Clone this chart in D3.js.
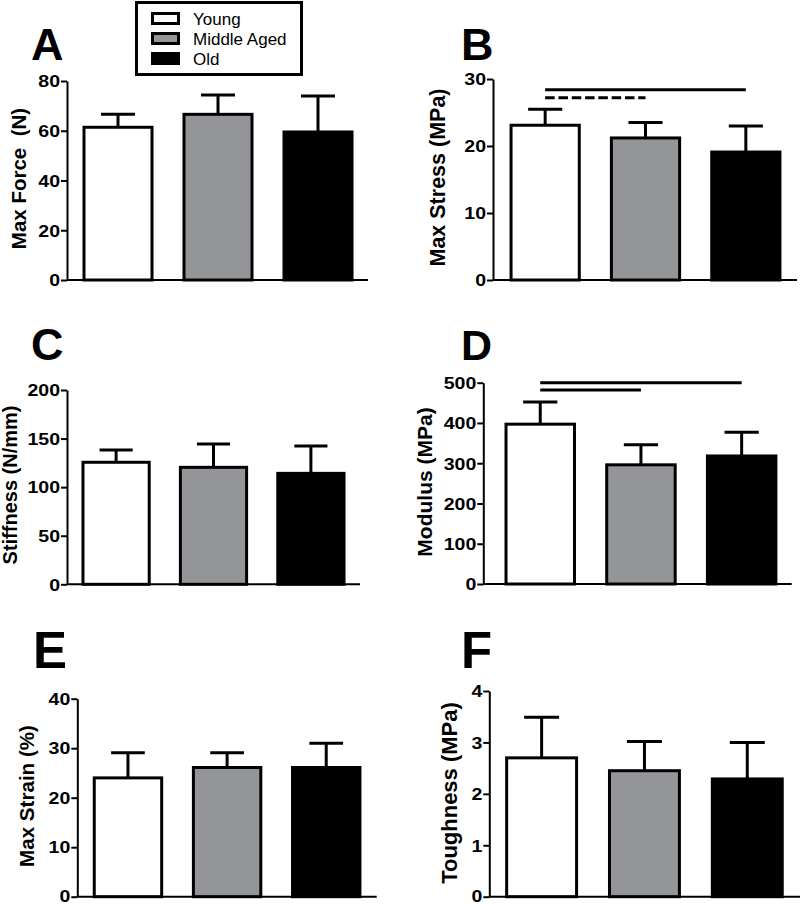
<!DOCTYPE html>
<html>
<head>
<meta charset="utf-8">
<script src="https://cdn.jsdelivr.net/npm/d3@7"></script>
<style>
  html, body { margin: 0; padding: 0; background: #fff; }
  svg { display: block; font-family: "Liberation Sans", Arial, Helvetica, sans-serif; }
</style>
</head>
<body>
<svg id="chart" width="800" height="904"></svg>
<script>
// ---------------- data ----------------
const categories = ["Young", "Middle Aged", "Old"];

const forceMean   = [61.4, 66.6, 59.5];
const forceSD     = [5.2, 7.8, 14.5];
const forceTicks  = [0, 20, 40, 60, 80];

const stressMean  = [23.1, 21.2, 19.1];
const stressSD    = [2.4, 2.3, 3.9];
const stressTicks = [0, 10, 20, 30];
const stressSig   = [
  { from: "Young", to: "Old", level: 28.4, dashed: false },
  { from: "Young", to: "Middle Aged", level: 27.2, dashed: true }
];

const stiffMean   = [125.6, 120.4, 114.2];
const stiffSD     = [12.7, 24.0, 28.1];
const stiffTicks  = [0, 50, 100, 150, 200];

const modulusMean  = [397, 296, 318];
const modulusSD    = [55, 50, 59];
const modulusTicks = [0, 100, 200, 300, 400, 500];
const modulusSig   = [
  { from: "Young", to: "Old", level: 500, dashed: false },
  { from: "Young", to: "Middle Aged", level: 482, dashed: false }
];

const strainMean  = [24.0, 26.1, 26.1];
const strainSD    = [5.1, 3.0, 4.9];
const strainTicks = [0, 10, 20, 30, 40];

const toughMean   = [2.70, 2.45, 2.29];
const toughSD     = [0.79, 0.57, 0.71];
const toughTicks  = [0, 1, 2, 3, 4];

// ---------------- layout ----------------
const svg = d3.select("#chart");
const color = d3.scaleOrdinal().domain(categories).range(["#ffffff", "#939598", "#000000"]);

const panels = [
  { letter: "A", title: "Max Force  (N)", mean: forceMean, sd: forceSD, ticks: forceTicks, sig: [],
    axisX: 67, axisRight: 368, band: [68, 368], y0: 280, yTop: 81,
    letterX: 31, letterY: 60, letterSize: 45, titleX: 26, titleY: 178.5, titleSize: 20.5 },
  { letter: "B", title: "Max Stress (MPa)", mean: stressMean, sd: stressSD, ticks: stressTicks, sig: stressSig,
    axisX: 493, axisRight: 797, band: [495, 796], y0: 280, yTop: 79,
    letterX: 461, letterY: 60, letterSize: 45, titleX: 445, titleY: 177.5, titleSize: 21.5 },
  { letter: "C", title: "Stiffness (N/mm)", mean: stiffMean, sd: stiffSD, ticks: stiffTicks, sig: [],
    axisX: 67, axisRight: 360, band: [67.4, 359.6], y0: 584.3, yTop: 390,
    letterX: 31, letterY: 360, letterSize: 45, titleX: 16.5, titleY: 485, titleSize: 20 },
  { letter: "D", title: "Modulus (MPa)", mean: modulusMean, sd: modulusSD, ticks: modulusTicks, sig: modulusSig,
    axisX: 483.3, axisRight: 791.7, band: [489.9, 792], y0: 584, yTop: 382.7,
    letterX: 461, letterY: 360, letterSize: 43, titleX: 432, titleY: 482, titleSize: 21 },
  { letter: "E", title: "Max Strain (%)", mean: strainMean, sd: strainSD, ticks: strainTicks, sig: [],
    axisX: 77.3, axisRight: 376.7, band: [78.4, 375.8], y0: 896.7, yTop: 698.7,
    letterX: 33, letterY: 668, letterSize: 51, titleX: 34, titleY: 796, titleSize: 20.6 },
  { letter: "F", title: "Toughness (MPa)", mean: toughMean, sd: toughSD, ticks: toughTicks, sig: [],
    axisX: 489.3, axisRight: 800, band: [490.2, 798.7], y0: 896.7, yTop: 691,
    letterX: 461, letterY: 668, letterSize: 51, titleX: 456.5, titleY: 793, titleSize: 22 }
];

const tickScaleX = 1.15;

panels.forEach(p => {
  const g = svg.append("g");
  const x = d3.scaleBand().domain(categories).range(p.band).paddingInner(0.32).paddingOuter(0.16);
  const yMax = p.ticks[p.ticks.length - 1];
  const y = d3.scaleLinear().domain([0, yMax]).range([p.y0, p.yTop]);

  // panel letter
  g.append("text")
    .attr("x", p.letterX).attr("y", p.letterY)
    .attr("font-size", p.letterSize).attr("font-weight", "bold")
    .attr("fill", "#000")
    .text(p.letter);

  // y-axis title
  g.append("text")
    .attr("transform", `translate(${p.titleX},${p.titleY}) rotate(-90)`)
    .attr("text-anchor", "middle")
    .attr("font-size", p.titleSize).attr("font-weight", "bold")
    .attr("fill", "#000")
    .style("white-space", "pre")
    .attr("xml:space", "preserve")
    .text(p.title);

  // bars
  const rows = categories.map((c, i) => ({ cat: c, mean: p.mean[i], sd: p.sd[i] }));
  g.selectAll("rect.bar").data(rows).join("rect")
    .attr("class", "bar")
    .attr("x", d => x(d.cat))
    .attr("width", x.bandwidth())
    .attr("y", d => y(d.mean))
    .attr("height", d => p.y0 - y(d.mean))
    .attr("fill", d => color(d.cat))
    .attr("stroke", "#000").attr("stroke-width", 3);

  // error bars (upper only)
  const capW = x.bandwidth() / 2;
  rows.forEach(d => {
    const cx = x(d.cat) + x.bandwidth() / 2;
    g.append("line")
      .attr("x1", cx).attr("x2", cx)
      .attr("y1", y(d.mean)).attr("y2", y(d.mean + d.sd))
      .attr("stroke", "#000").attr("stroke-width", 3);
    g.append("line")
      .attr("x1", cx - capW / 2).attr("x2", cx + capW / 2)
      .attr("y1", y(d.mean + d.sd)).attr("y2", y(d.mean + d.sd))
      .attr("stroke", "#000").attr("stroke-width", 3);
  });

  // significance lines
  p.sig.forEach(s => {
    g.append("line")
      .attr("x1", x(s.from) + x.bandwidth() / 2)
      .attr("x2", x(s.to) + x.bandwidth() / 2)
      .attr("y1", y(s.level)).attr("y2", y(s.level))
      .attr("stroke", "#000").attr("stroke-width", 3)
      .attr("stroke-dasharray", s.dashed ? "9.5,3.8" : null);
  });

  // y axis
  const yAxis = d3.axisLeft(y).tickValues(p.ticks).tickFormat(d3.format("d"))
    .tickSize(6).tickSizeOuter(0).tickPadding(1);
  const ag = g.append("g").attr("transform", `translate(${p.axisX},0)`).call(yAxis);
  ag.select(".domain").attr("stroke", "#000").attr("stroke-width", 2);
  ag.selectAll(".tick line").attr("stroke", "#000").attr("stroke-width", 2);
  ag.selectAll(".tick text")
    .attr("font-family", null)
    .attr("font-size", 17).attr("font-weight", "bold").attr("fill", "#000")
    .attr("x", -7 / tickScaleX)
    .attr("dy", d => (d === 0 && p.y0 > 890) ? "0.26em" : "0.34em")
    .attr("transform", `scale(${tickScaleX},1)`);

  // x axis baseline
  g.append("line")
    .attr("x1", p.axisX).attr("x2", p.axisRight)
    .attr("y1", p.y0).attr("y2", p.y0)
    .attr("stroke", "#000").attr("stroke-width", 2);
});

// ---------------- legend ----------------
const lg = svg.append("g");
lg.append("rect")
  .attr("x", 136.5).attr("y", 2.5).attr("width", 165).attr("height", 72)
  .attr("fill", "#fff").attr("stroke", "#000").attr("stroke-width", 3);
const legY = d3.scalePoint().domain(categories).range([25, 65]);
categories.forEach(c => {
  lg.append("rect")
    .attr("x", 152.5).attr("y", legY(c) - 11.5).attr("width", 26).attr("height", 10)
    .attr("fill", color(c)).attr("stroke", "#000").attr("stroke-width", 3);
  lg.append("text")
    .attr("x", 193).attr("y", legY(c))
    .attr("font-size", 17).attr("fill", "#000")
    .text(c);
});
</script>
</body>
</html>
